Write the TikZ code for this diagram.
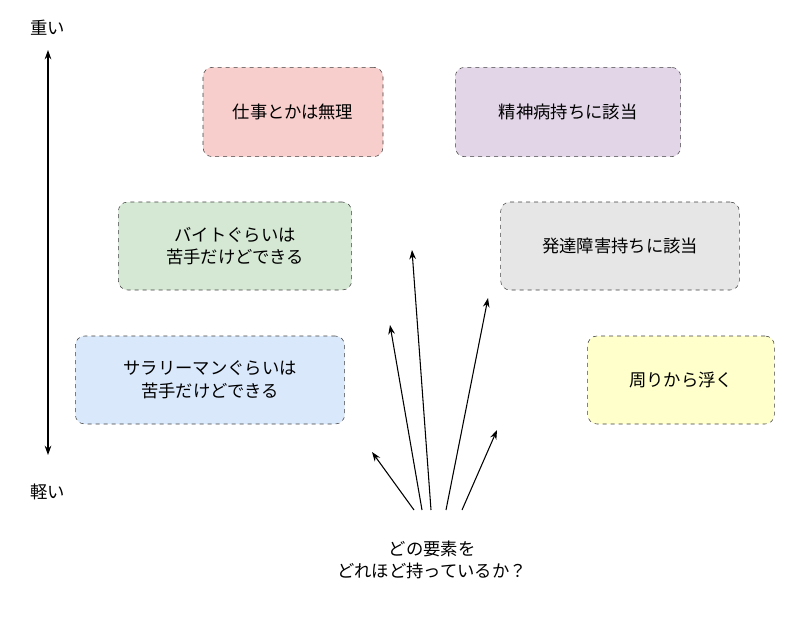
\documentclass[tikz,border=0pt]{standalone}
\usepackage{fontspec}
\setmainfont{Noto Sans CJK JP}
\usetikzlibrary{arrows.meta}
\begin{document}
\begin{tikzpicture}[x=0.75pt,y=-0.75pt,
  box/.style={draw=black!75,dashed,rounded corners=7pt,align=center,font=\fontsize{13}{17}\selectfont,inner sep=0pt},
  arr/.style={-{Stealth[length=7pt,width=5pt]},line width=0.8pt},
  lbl/.style={font=\fontsize{13}{17}\selectfont,align=center}]
\useasboundingbox (0,0) rectangle (800,617);
\definecolor{cpink}{HTML}{F8CECC}\definecolor{cpurp}{HTML}{E1D5E7}
\definecolor{cgreen}{HTML}{D5E8D4}\definecolor{cgray}{HTML}{E6E6E6}
\definecolor{cblue}{HTML}{DAE8FC}\definecolor{cyell}{HTML}{FFFFCC}
\node[box,fill=cpink,minimum width=135pt,minimum height=67pt] (b1) at (293,112) {仕事とかは無理};
\node[box,fill=cpurp,minimum width=169pt,minimum height=67pt] (b2) at (568,112) {精神病持ちに該当};
\node[box,fill=cgreen,minimum width=175pt,minimum height=66pt] (b3) at (235,246) {バイトぐらいは\\苦手だけどできる};
\node[box,fill=cgray,minimum width=179pt,minimum height=66pt] (b4) at (620,246) {発達障害持ちに該当};
\node[box,fill=cblue,minimum width=202pt,minimum height=66pt] (b5) at (210,380) {サラリーマンぐらいは\\苦手だけどできる};
\node[box,fill=cyell,minimum width=140pt,minimum height=66pt] (b6) at (681,380) {周りから浮く};
\node[lbl] (top) at (48,28) {重い};
\node[lbl] (bot) at (48,492) {軽い};
\coordinate (vt) at (48,50); \coordinate (vb) at (48,455);
\draw[{Stealth[length=7pt,width=5pt]}-{Stealth[length=7pt,width=5pt]},line width=0.8pt] (vt) -- (vb);
\node[lbl] (q) at (432,560) {どの要素を\\どれほど持っているか？};
\coordinate (s1) at (414,510); \coordinate (e1) at (372,452);
\coordinate (s2) at (422,510); \coordinate (e2) at (390,325);
\coordinate (s3) at (431,510); \coordinate (e3) at (412,250);
\coordinate (s4) at (446,510); \coordinate (e4) at (488,298);
\coordinate (s5) at (462,510); \coordinate (e5) at (497,430);
\foreach \i in {1,...,5} \draw[arr] (s\i) -- (e\i);
\end{tikzpicture}
\end{document}
